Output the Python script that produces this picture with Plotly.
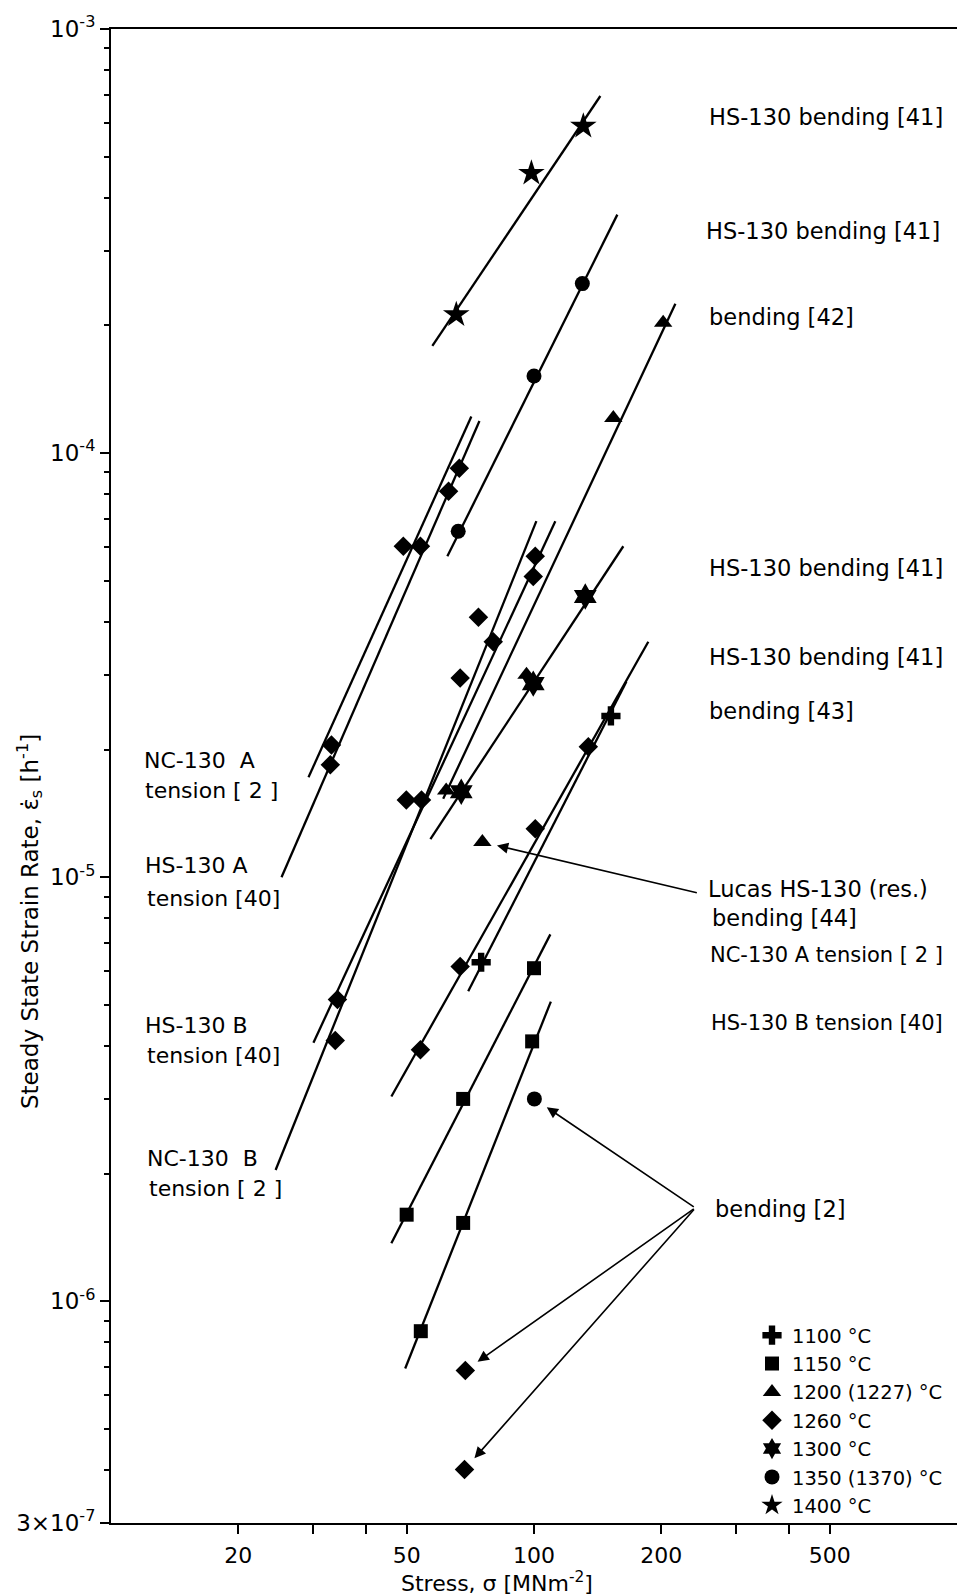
import numpy as np
import plotly.graph_objects as go

# ---------------- data (stress in MN m^-2, strain rate in h^-1) ----------------
t1100_x = [152, 75]
t1100_y = [2.40e-5, 6.3e-6]
t1150_x = [100, 68, 50, 99, 68, 54]
t1150_y = [6.1e-6, 3.0e-6, 1.6e-6, 4.1e-6, 1.53e-6, 8.5e-7]
t1200_x = [202, 154, 62, 96, 75.5]
t1200_y = [2.03e-4, 1.21e-4, 1.60e-5, 3.0e-5, 1.21e-5]
t1260_x = [49.1, 53.9, 33.2, 33.0, 66.6, 62.8, 100.7, 99.6, 80.1, 73.9, 66.9,
           49.9, 54.2, 34.3, 33.9, 134.4, 100.7, 66.9, 53.9, 68.8, 68.5]
t1260_y = [6.03e-5, 6.03e-5, 2.05e-5, 1.84e-5, 9.21e-5, 8.13e-5, 5.71e-5, 5.12e-5,
           3.59e-5, 4.10e-5, 2.95e-5, 1.52e-5, 1.52e-5, 5.15e-6, 4.12e-6, 2.03e-5,
           1.30e-5, 6.16e-6, 3.92e-6, 6.87e-7, 4.01e-7]
t1300_x = [132.2, 99.6, 67.3]
t1300_y = [4.59e-5, 2.86e-5, 1.59e-5]
t1350_x = [130.1, 100, 66.2, 100.2]
t1350_y = [2.51e-4, 1.52e-4, 6.54e-5, 3.0e-6]
t1400_x = [130.8, 98.6, 65.5]
t1400_y = [5.90e-4, 4.57e-4, 2.12e-4]

# fitted lines: (stress pair, strain-rate pair)
line_1400 = ([57.5, 143.5], [1.79e-4, 6.95e-4])
line_1350 = ([62.4, 157.4], [5.71e-5, 3.65e-4])
line_1200 = ([61.0, 215.9], [1.53e-5, 2.25e-4])
line_nc130a = ([29.3, 71.1], [1.72e-5, 1.22e-4])
line_hs130a = ([25.3, 74.3], [1.00e-5, 1.19e-4])
line_nc130b = ([24.5, 101.3], [2.04e-6, 6.91e-5])
line_hs130b = ([30.1, 112.3], [4.07e-6, 6.91e-5])
line_1300 = ([56.9, 162.6], [1.23e-5, 6.03e-5])
line_1260c = ([46.0, 186.3], [3.04e-6, 3.59e-5])
line_1100 = ([69.9, 165.3], [5.38e-6, 2.89e-5])
line_1150a = ([46.0, 109.3], [1.37e-6, 7.33e-6])
line_1150b = ([49.6, 109.6], [6.94e-7, 5.09e-6])

x_tickvals = [20, 50, 100, 200, 500]
x_ticktext = ["20", "50", "100", "200", "500"]
x_minor = [30, 40, 300, 400]
y_tickvals = [3e-7, 1e-6, 1e-5, 1e-4, 1e-3]
y_ticktext = ["3×10<sup>-7</sup>", "10<sup>-6</sup>", "10<sup>-5</sup>",
              "10<sup>-4</sup>", "10<sup>-3</sup>"]
y_minor = [m * 10.0 ** e for e in range(-7, -3) for m in range(2, 10)
           if 3e-7 < m * 10.0 ** e < 1e-3]

legend_names = ["1100 °C", "1150 °C", "1200 (1227) °C", "1260 °C",
                "1300 °C", "1350 (1370) °C", "1400 °C"]

# ---------------- figure ----------------
W, H = 958, 1596
L, R, T, B = 111, 1, 29, 73
FONT = "DejaVu Sans"


def px(xp):
    return (xp - L) / (W - L - R)


def py(yp):
    return (H - B - yp) / (H - T - B)


fig = go.Figure()

for seg in [line_1400, line_1350, line_1200, line_nc130a, line_hs130a, line_nc130b,
            line_hs130b, line_1300, line_1260c, line_1100, line_1150a, line_1150b]:
    fig.add_trace(go.Scatter(x=seg[0], y=seg[1], mode="lines",
                             line=dict(color="black", width=2.3),
                             showlegend=False, hoverinfo="skip"))

series = [
    (t1100_x, t1100_y, "cross", 16),
    (t1150_x, t1150_y, "square", 14),
    (t1200_x, t1200_y, "triangle-up", 16),
    (t1260_x, t1260_y, "diamond", 15),
    (t1300_x, t1300_y, "hexagram", 20),
    (t1350_x, t1350_y, "circle", 15),
    (t1400_x, t1400_y, "star", 20),
]
for (xs, ys, sym, sz), name in zip(series, legend_names):
    fig.add_trace(go.Scatter(x=xs, y=ys, mode="markers", name=name,
                             marker=dict(symbol=sym, size=sz, color="black",
                                         line=dict(width=0))))

right_font = dict(family=FONT, size=22.5, color="black")
narrow_font = dict(family=FONT, size=21, color="black")
left_font = dict(family=FONT, size=22, color="black")
annots = []
right_labels = [
    ("HS-130 bending [41]", 707, 117, right_font),
    ("HS-130 bending [41]", 704, 231, right_font),
    ("bending [42]", 707, 317, right_font),
    ("HS-130 bending [41]", 707, 568, right_font),
    ("HS-130 bending [41]", 707, 657, right_font),
    ("bending [43]", 707, 711, right_font),
    ("Lucas HS-130 (res.)", 706, 889, right_font),
    ("bending [44]", 710, 918, right_font),
    ("NC-130 A tension [ 2 ]", 708, 955, narrow_font),
    ("HS-130 B tension [40]", 709, 1023, narrow_font),
    ("bending [2]", 713, 1209, right_font),
]
left_labels = [
    ("NC-130  A", 142, 760, left_font),
    ("tension [ 2 ]", 143, 790, left_font),
    ("HS-130 A", 143, 865, left_font),
    ("tension [40]", 145, 898, left_font),
    ("HS-130 B", 143, 1025, left_font),
    ("tension [40]", 145, 1055, left_font),
    ("NC-130  B", 145, 1158, left_font),
    ("tension [ 2 ]", 147, 1188, left_font),
]
for text, xp, yp, fnt in right_labels + left_labels:
    annots.append(dict(text=text, x=px(xp), y=py(yp), xref="paper", yref="paper",
                       xanchor="left", yanchor="middle", showarrow=False,
                       font=fnt))

# arrows (data coords, log10 for log axes)
arrow_tail_bend2 = (240.6, 1.66e-6)
arrow_tail_lucas = (244.6, 9.17e-6)
arrow_heads_bend2 = [(100.2, 3.0e-6), (68.8, 6.87e-7), (68.5, 4.01e-7)]
arrow_head_lucas = (75.5, 1.21e-5)

for (hx, hy), (tx, ty) in [(h, arrow_tail_bend2) for h in arrow_heads_bend2] + \
        [(arrow_head_lucas, arrow_tail_lucas)]:
    annots.append(dict(text="", x=np.log10(hx), y=np.log10(hy), xref="x", yref="y",
                       ax=np.log10(tx), ay=np.log10(ty), axref="x", ayref="y",
                       showarrow=True, arrowhead=2, arrowsize=1.4, arrowwidth=1.6,
                       arrowcolor="black", standoff=15))

# axis titles
annots.append(dict(text="Steady State Strain Rate, ε̇<sub>s</sub> [h<sup>-1</sup>]",
                   x=px(29), y=py(922), xref="paper", yref="paper", textangle=-90,
                   showarrow=False, font=dict(family=FONT, size=23, color="black"),
                   xanchor="center", yanchor="middle"))
annots.append(dict(text="Stress, σ [MNm<sup>-2</sup>]",
                   x=px(497), y=py(1582), xref="paper", yref="paper",
                   showarrow=False, font=dict(family=FONT, size=22, color="black"),
                   xanchor="center", yanchor="middle"))

fig.update_layout(
    width=W, height=H,
    margin=dict(l=L, r=R, t=T, b=B, pad=0),
    paper_bgcolor="white", plot_bgcolor="white",
    font=dict(family=FONT, size=20, color="black"),
    annotations=annots,
    showlegend=True,
    legend=dict(x=px(752), y=py(1316), xanchor="left", yanchor="top",
                font=dict(family=FONT, size=19.5, color="black"),
                bgcolor="rgba(0,0,0,0)", borderwidth=0, itemsizing="trace",
                tracegroupgap=0),
)
fig.update_xaxes(type="log", range=[1, 3], showgrid=False, zeroline=False,
                 showline=True, linecolor="black", linewidth=2, mirror=True,
                 ticks="outside", ticklen=9, tickwidth=2, tickcolor="black",
                 tickvals=x_tickvals, ticktext=x_ticktext, ticklabelstandoff=3,
                 tickfont=dict(family=FONT, size=22, color="black"),
                 minor=dict(tickvals=x_minor, ticks="outside", ticklen=9,
                            tickwidth=2, tickcolor="black", showgrid=False))
fig.update_yaxes(type="log", range=[np.log10(3e-7), -3], showgrid=False, zeroline=False,
                 showline=True, linecolor="black", linewidth=2, mirror=False,
                 ticks="outside", ticklen=9, tickwidth=2, tickcolor="black",
                 tickvals=y_tickvals, ticktext=y_ticktext,
                 tickfont=dict(family=FONT, size=23, color="black"),
                 minor=dict(tickvals=y_minor, ticks="outside", ticklen=5,
                            tickwidth=1.5, tickcolor="black", showgrid=False))

fig.write_html("out.html")
